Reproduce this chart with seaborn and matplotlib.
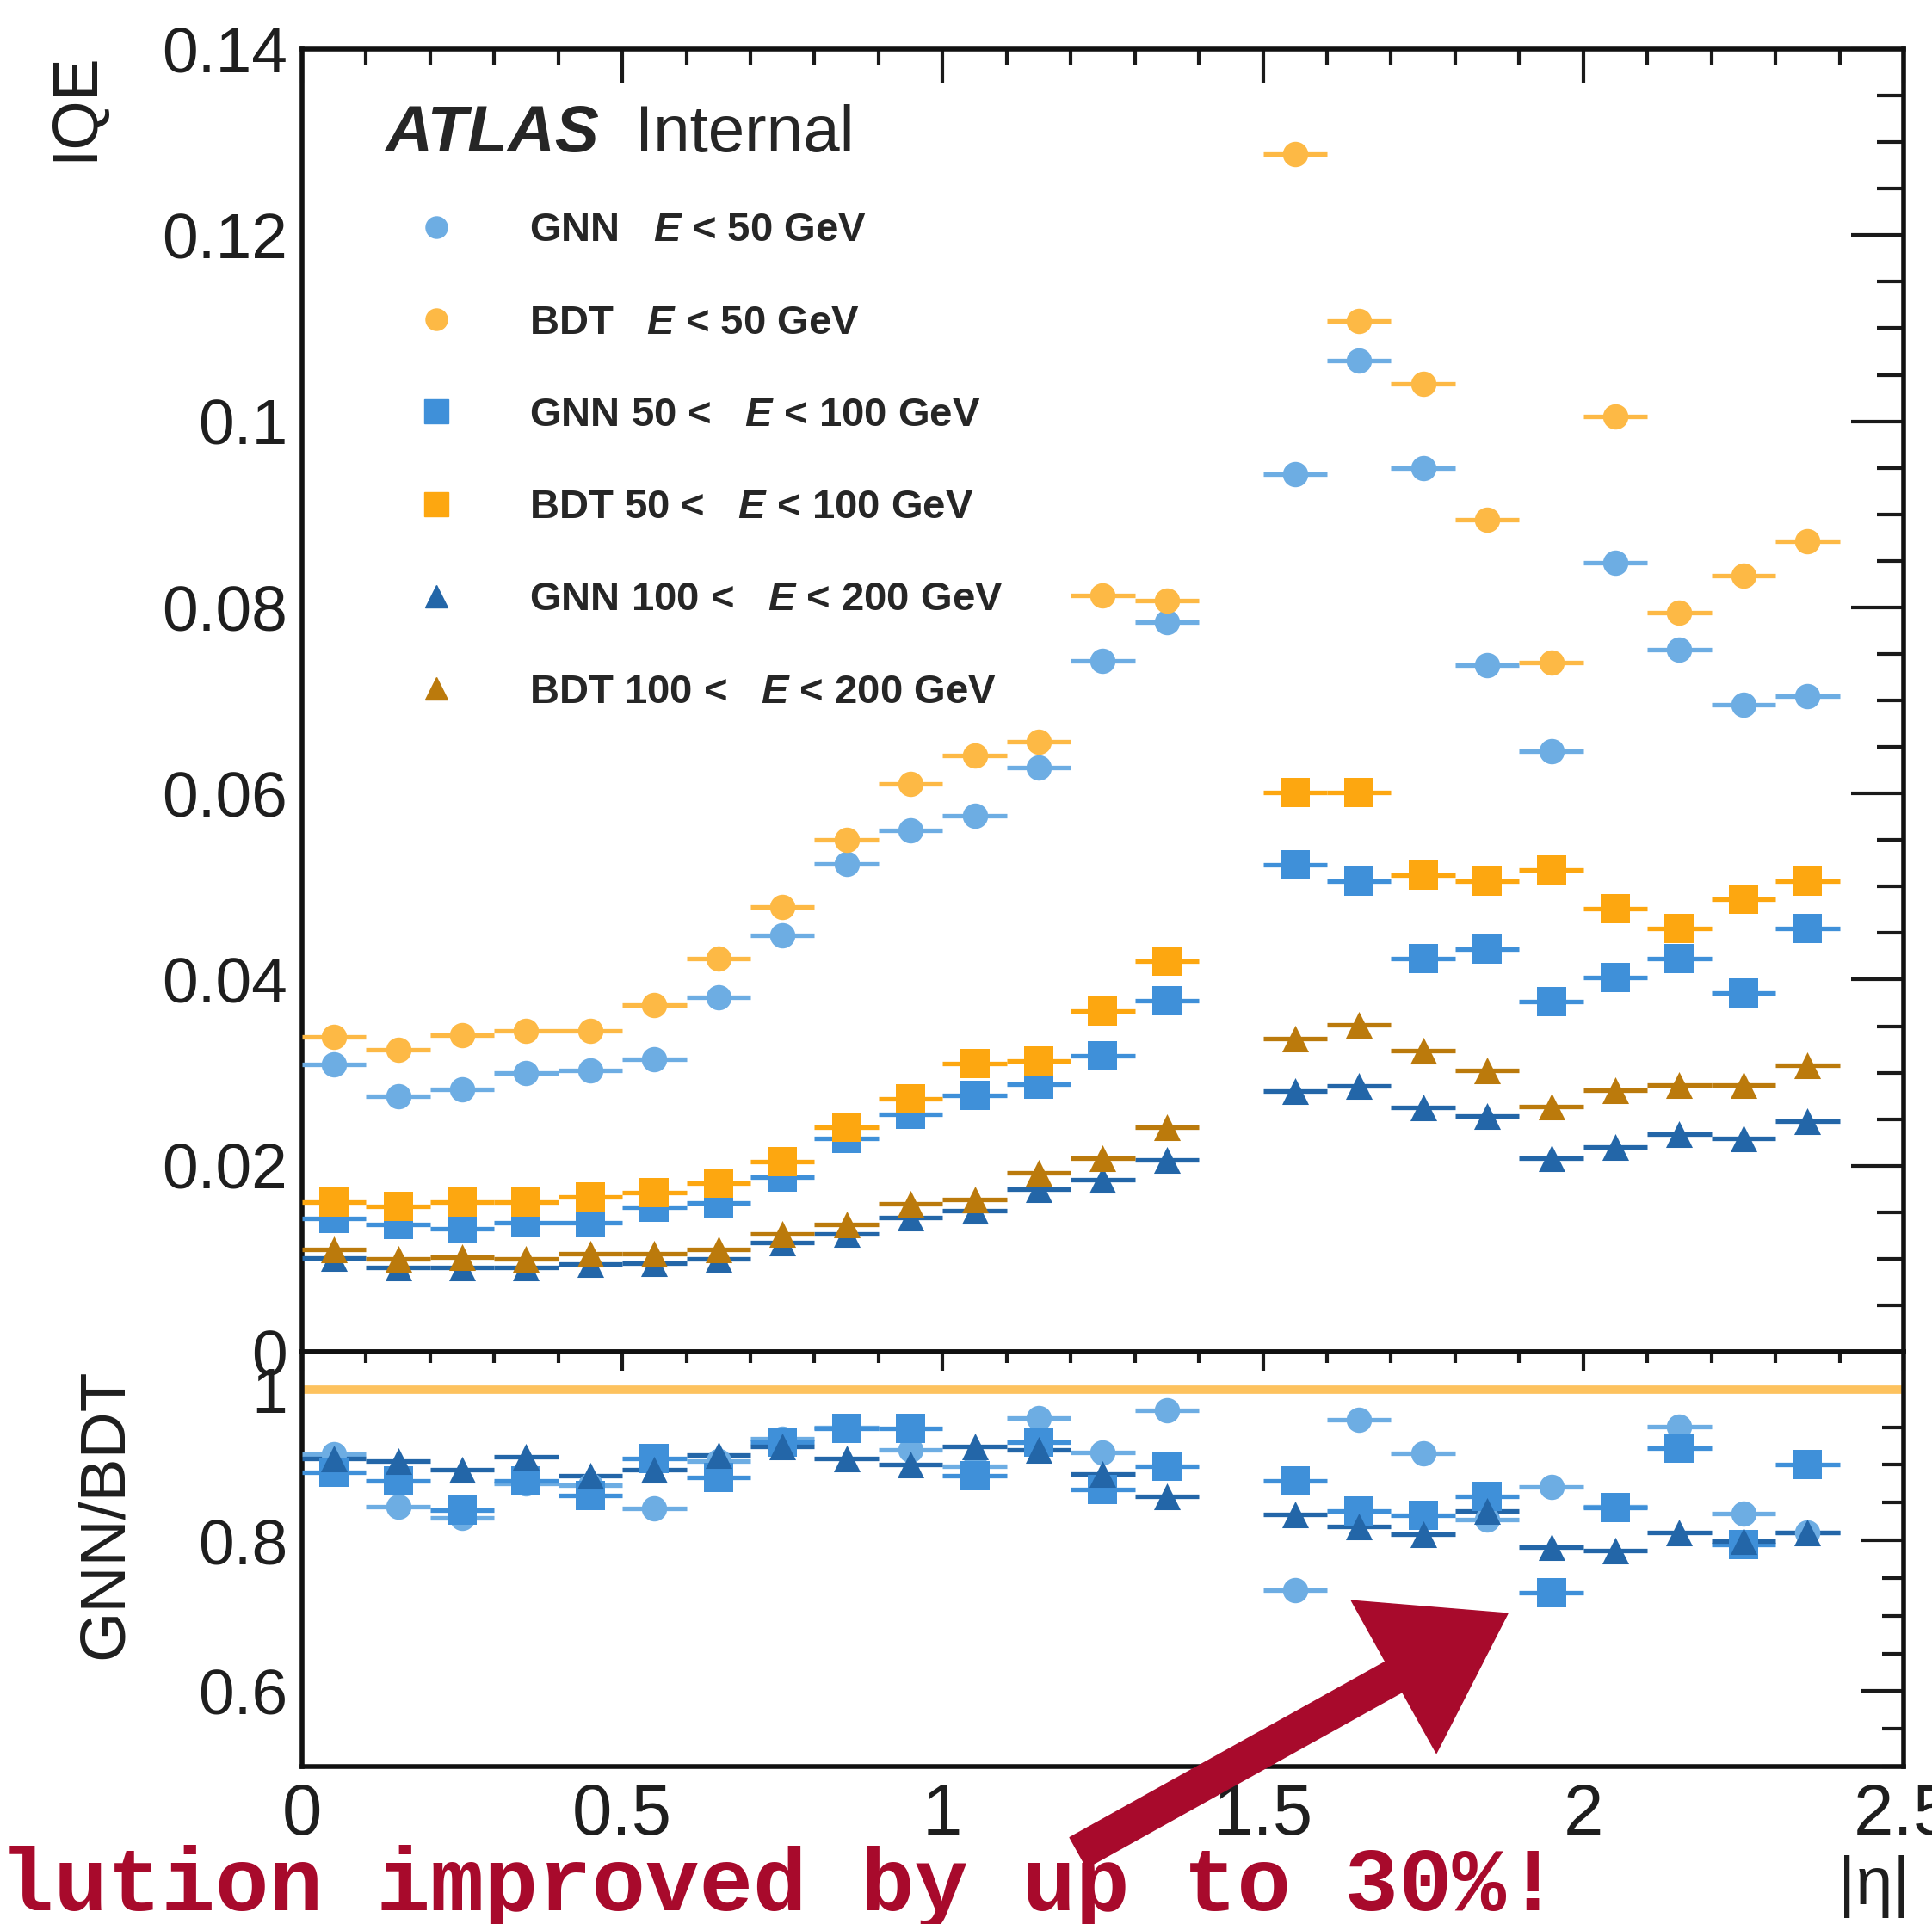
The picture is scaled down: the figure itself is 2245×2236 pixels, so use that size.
import numpy as np
import pandas as pd
import matplotlib
matplotlib.use("Agg")
import matplotlib.pyplot as plt
import seaborn as sns
from matplotlib.lines import Line2D
from matplotlib.patches import FancyArrowPatch, ArrowStyle
from matplotlib.ticker import MultipleLocator

# -------------------------
# Data
# -------------------------

eta = [0.05, 0.15, 0.25, 0.35, 0.45, 0.55, 0.65, 0.75, 0.85, 0.95, 1.05, 1.15, 1.25, 1.35,
       1.55, 1.65, 1.75, 1.85, 1.95, 2.05, 2.15, 2.25, 2.35]
bin_half = 0.05

gnn_lo = [0.0309, 0.0275, 0.0282, 0.0300, 0.0302, 0.0314, 0.0381, 0.0448, 0.0524, 0.0560, 0.0576, 0.0628, 0.0743, 0.0784,
          0.0943, 0.1065, 0.0950, 0.0738, 0.0645, 0.0848, 0.0755, 0.0695, 0.0705]
bdt_lo = [0.0338, 0.0325, 0.0340, 0.0345, 0.0345, 0.0373, 0.0423, 0.0478, 0.0550, 0.0610, 0.0641, 0.0656, 0.0813, 0.0807,
          0.1287, 0.1108, 0.1040, 0.0894, 0.0741, 0.1005, 0.0794, 0.0834, 0.0871]
gnn_mid = [0.0143, 0.0137, 0.0132, 0.0139, 0.0139, 0.0155, 0.0160, 0.0188, 0.0229, 0.0255, 0.0276, 0.0288, 0.0318, 0.0377,
           0.0523, 0.0506, 0.0423, 0.0433, 0.0376, 0.0402, 0.0423, 0.0386, 0.0455]
bdt_mid = [0.0161, 0.0156, 0.0161, 0.0161, 0.0166, 0.0171, 0.0181, 0.0204, 0.0241, 0.0272, 0.0310, 0.0313, 0.0366, 0.0420,
           0.0601, 0.0601, 0.0512, 0.0506, 0.0518, 0.0476, 0.0455, 0.0486, 0.0506]
gnn_hi = [0.0101, 0.0091, 0.0091, 0.0091, 0.0094, 0.0095, 0.0100, 0.0117, 0.0127, 0.0144, 0.0152, 0.0175, 0.0185, 0.0206,
          0.0280, 0.0286, 0.0263, 0.0253, 0.0208, 0.0220, 0.0234, 0.0229, 0.0248]
bdt_hi = [0.0110, 0.0100, 0.0102, 0.0100, 0.0105, 0.0105, 0.0110, 0.0127, 0.0137, 0.0159, 0.0164, 0.0192, 0.0208, 0.0241,
          0.0337, 0.0351, 0.0324, 0.0302, 0.0264, 0.0281, 0.0287, 0.0287, 0.0308]

ratio_lo = [0.914, 0.845, 0.830, 0.875, 0.873, 0.842, 0.905, 0.935, 0.950, 0.920, 0.898, 0.962, 0.917, 0.973,
            0.734, 0.960, 0.915, 0.827, 0.871, 0.845, 0.951, 0.835, 0.810]
ratio_mid = [0.890, 0.879, 0.840, 0.879, 0.860, 0.909, 0.884, 0.930, 0.949, 0.949, 0.886, 0.930, 0.868, 0.898,
             0.879, 0.839, 0.833, 0.858, 0.730, 0.844, 0.922, 0.795, 0.901]
ratio_hi = [0.909, 0.905, 0.894, 0.911, 0.886, 0.894, 0.913, 0.924, 0.909, 0.901, 0.924, 0.920, 0.888, 0.858,
            0.834, 0.818, 0.808, 0.839, 0.791, 0.786, 0.810, 0.799, 0.810]

labels = ["GNN   $E$ < 50 GeV", "BDT   $E$ < 50 GeV",
          "GNN 50 <   $E$ < 100 GeV", "BDT 50 <   $E$ < 100 GeV",
          "GNN 100 <   $E$ < 200 GeV", "BDT 100 <   $E$ < 200 GeV"]
colors = ["#6dade3", "#fdb945", "#3f90d9", "#fda710", "#2366a8", "#bb7a0c"]
markers = ["o", "o", "s", "s", "^", "^"]
sizes = [450, 450, 580, 580, 500, 500]
values = [gnn_lo, bdt_lo, gnn_mid, bdt_mid, gnn_hi, bdt_hi]

xticks = [0, 0.5, 1, 1.5, 2, 2.5]
xticklabels = ["0", "0.5", "1", "1.5", "2", "2.5"]
yticks = [0, 0.02, 0.04, 0.06, 0.08, 0.10, 0.12, 0.14]
yticklabels = ["0", "0.02", "0.04", "0.06", "0.08", "0.1", "0.12", "0.14"]
rticks = [0.6, 0.8, 1.0]
rticklabels = ["0.6", "0.8", "1"]

# -------------------------
# Style
# -------------------------

sns.set_style("white")
plt.rcParams['font.family'] = ['Liberation Sans', 'DejaVu Sans']
plt.rcParams['mathtext.fontset'] = 'custom'
plt.rcParams['mathtext.it'] = 'Liberation Sans:italic:bold'
plt.rcParams['mathtext.rm'] = 'Liberation Sans'

fig = plt.figure(figsize=(22.45, 22.36), dpi=100)
ax1 = fig.add_axes([0.1563, 0.2974, 0.8290, 0.6771])
ax2 = fig.add_axes([0.1563, 0.0818, 0.8290, 0.2156])

eta_arr = np.array(eta)

# -------------------------
# Upper panel: IQE
# -------------------------

for vals, c, m, s in zip(values, colors, markers, sizes):
    df = pd.DataFrame({"eta": eta, "iqe": vals})
    ax1.hlines(df["iqe"], eta_arr - bin_half, eta_arr + bin_half, colors=c, lw=3.8, zorder=3)
    sns.scatterplot(data=df, x="eta", y="iqe", color=c, marker=m, s=s, linewidth=0, ax=ax1, zorder=4)

ax1.set_xlim(0, 2.5)
ax1.set_ylim(0, 0.14)
ax1.set_xlabel("")
ax1.set_ylabel("")
ax1.set_xticks(xticks)
ax1.set_yticks(yticks)
ax1.set_yticklabels(yticklabels)
ax1.xaxis.set_minor_locator(MultipleLocator(0.1))
ax1.yaxis.set_minor_locator(MultipleLocator(0.005))
ax1.tick_params(axis="both", which="both", direction="in", top=True, right=True,
                width=3, color="#1a1a1a", labelbottom=False)
ax1.tick_params(axis="y", which="major", length=44, labelsize=54, pad=12, labelcolor="#1e1e1e")
ax1.tick_params(axis="y", which="minor", length=22)
ax1.tick_params(axis="x", which="major", length=28)
ax1.tick_params(axis="x", which="minor", length=14)

ax1.text(-0.1413, 0.998, "IQE", rotation=90, ha="center", va="top",
         fontsize=53, transform=ax1.transAxes, color="#1e1e1e")

ax1.text(0.052, 0.9214, "ATLAS", fontsize=55, fontweight="bold", fontstyle="italic",
         transform=ax1.transAxes, va="baseline", ha="left")
ax1.text(0.208, 0.9214, "Internal", fontsize=55, transform=ax1.transAxes,
         va="baseline", ha="left")

handles = [Line2D([], [], linestyle="none", marker=m, color=c, markersize=np.sqrt(s) * 0.85)
           for c, m, s in zip(colors, markers, sizes)]
ax1.legend(handles, labels, loc="upper left", bbox_to_anchor=(0.071, 0.875),
           frameon=False, borderpad=0, borderaxespad=0, handlelength=1.0,
           handletextpad=1.8, labelspacing=1.34,
           prop={"family": "Liberation Sans", "weight": "bold", "size": 34})

# -------------------------
# Lower panel: GNN/BDT ratio
# -------------------------

ax2.axhline(1.0, color="#fdc25e", lw=7, zorder=2)
ratios = [ratio_lo, ratio_mid, ratio_hi]
for r, c, m, s in zip(ratios, [colors[0], colors[2], colors[4]], ["o", "s", "^"], [450, 580, 500]):
    df = pd.DataFrame({"eta": eta, "ratio": r})
    ax2.hlines(df["ratio"], eta_arr - bin_half, eta_arr + bin_half, colors=c, lw=3.8, zorder=3)
    sns.scatterplot(data=df, x="eta", y="ratio", color=c, marker=m, s=s, linewidth=0, ax=ax2, zorder=4)

ax2.set_xlim(0, 2.5)
ax2.set_ylim(0.5, 1.05)
ax2.set_xlabel("")
ax2.set_ylabel("")
ax2.set_xticks(xticks)
ax2.set_xticklabels(xticklabels)
ax2.set_yticks(rticks)
ax2.set_yticklabels(rticklabels)
ax2.xaxis.set_minor_locator(MultipleLocator(0.1))
ax2.yaxis.set_minor_locator(MultipleLocator(0.05))
ax2.tick_params(axis="both", which="both", direction="in", top=True, right=True,
                width=3, color="#1a1a1a")
ax2.tick_params(axis="y", which="major", length=35, labelsize=54, pad=12, labelcolor="#1e1e1e")
ax2.tick_params(axis="y", which="minor", length=18)
ax2.tick_params(axis="x", which="major", length=16, labelsize=60, pad=13, labelcolor="#1e1e1e")
ax2.tick_params(axis="x", which="minor", length=9)

ax2.text(-0.123, 0.9606, "GNN/BDT", rotation=90, ha="center", va="top",
         fontsize=54, transform=ax2.transAxes, color="#1e1e1e")
fig.text(0.9889, 0.003, "|η|", ha="right", va="bottom", fontsize=56, color="#1e1e1e")

for ax in (ax1, ax2):
    for sp in ax.spines.values():
        sp.set_linewidth(4)
        sp.set_color("#111111")

# -------------------------
# Handwritten note + arrow
# -------------------------

note_red = "#a80a2c"
fig.text(0.0, 0.0072, "lution improved by up to 30%!", fontsize=75, color=note_red,
         ha="left", va="baseline", fontweight="bold", family=["Liberation Mono", "DejaVu Sans Mono"])

arrow = FancyArrowPatch((0.5581, 0.0371), (0.7804, 0.1614), transform=fig.transFigure,
                        arrowstyle=ArrowStyle.Simple(head_length=109, head_width=146, tail_width=29),
                        mutation_scale=1, color=note_red, shrinkA=0, shrinkB=0, zorder=10)
fig.add_artist(arrow)

fig.savefig("out.png", dpi=100)
